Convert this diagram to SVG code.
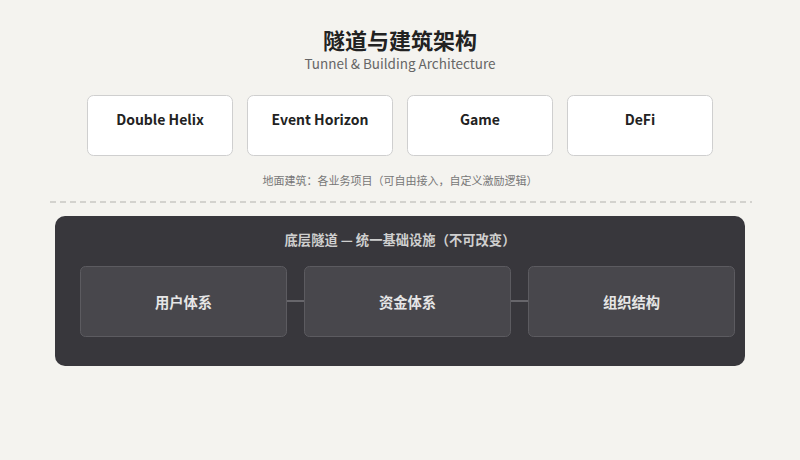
<svg xmlns="http://www.w3.org/2000/svg" width="800" height="460" viewBox="0 0 800 460">
<style>
text{font-family:"Noto Sans CJK SC","Noto Sans",sans-serif;text-anchor:middle}
.title{font-size:22px;font-weight:bold;fill:#222}
.sub{font-size:13.5px;fill:#666}
.card{fill:#fff;stroke:#cfcfcf;stroke-width:1}
.clabel{font-size:14px;font-weight:bold;fill:#222}
.cap{font-size:11px;fill:#777}
.tunnel{fill:#38373c}
.tlabel{font-size:13.3px;font-weight:bold;fill:#cfcfcf}
.inner{fill:#48474c;stroke:#5c5b60;stroke-width:1}
.ilabel{font-size:14.3px;font-weight:bold;fill:#e6e6e6}
.conn{stroke:#67666b;stroke-width:2}
</style>
<rect width="800" height="460" fill="#f4f3ef"/>
<text class="title" x="400" y="49">隧道与建筑架构</text>
<text class="sub" x="400" y="69">Tunnel &amp; Building Architecture</text>
<g id="node-double-helix"><rect class="card" x="87.5" y="95.5" width="145" height="60" rx="6"/><text class="clabel" x="160" y="125">Double Helix</text></g>
<g id="node-event-horizon"><rect class="card" x="247.5" y="95.5" width="145" height="60" rx="6"/><text class="clabel" x="320" y="125">Event Horizon</text></g>
<g id="node-game"><rect class="card" x="407.5" y="95.5" width="145" height="60" rx="6"/><text class="clabel" x="480" y="125">Game</text></g>
<g id="node-defi"><rect class="card" x="567.5" y="95.5" width="145" height="60" rx="6"/><text class="clabel" x="640" y="125">DeFi</text></g>
<text class="cap" x="400" y="185">地面建筑：各业务项目（可自由接入，自定义激励逻辑）</text>
<line x1="50" y1="202" x2="752" y2="202" stroke="#c8c7c3" stroke-width="1.5" stroke-dasharray="6 4"/>
<g id="tunnel"><rect class="tunnel" x="55" y="216" width="690" height="150" rx="10"/><text class="tlabel" x="400" y="245">底层隧道 — 统一基础设施（不可改变）</text></g>
<g id="connectors">
<line class="conn" x1="286" y1="301" x2="304" y2="301"/>
<line class="conn" x1="510" y1="301" x2="528" y2="301"/>
</g>
<g id="node-user"><rect class="inner" x="80.5" y="266.5" width="206" height="70" rx="5"/><text class="ilabel" x="183.5" y="308">用户体系</text></g>
<g id="node-fund"><rect class="inner" x="304.5" y="266.5" width="206" height="70" rx="5"/><text class="ilabel" x="407.5" y="308">资金体系</text></g>
<g id="node-org"><rect class="inner" x="528.5" y="266.5" width="206" height="70" rx="5"/><text class="ilabel" x="631.5" y="308">组织结构</text></g>
</svg>
